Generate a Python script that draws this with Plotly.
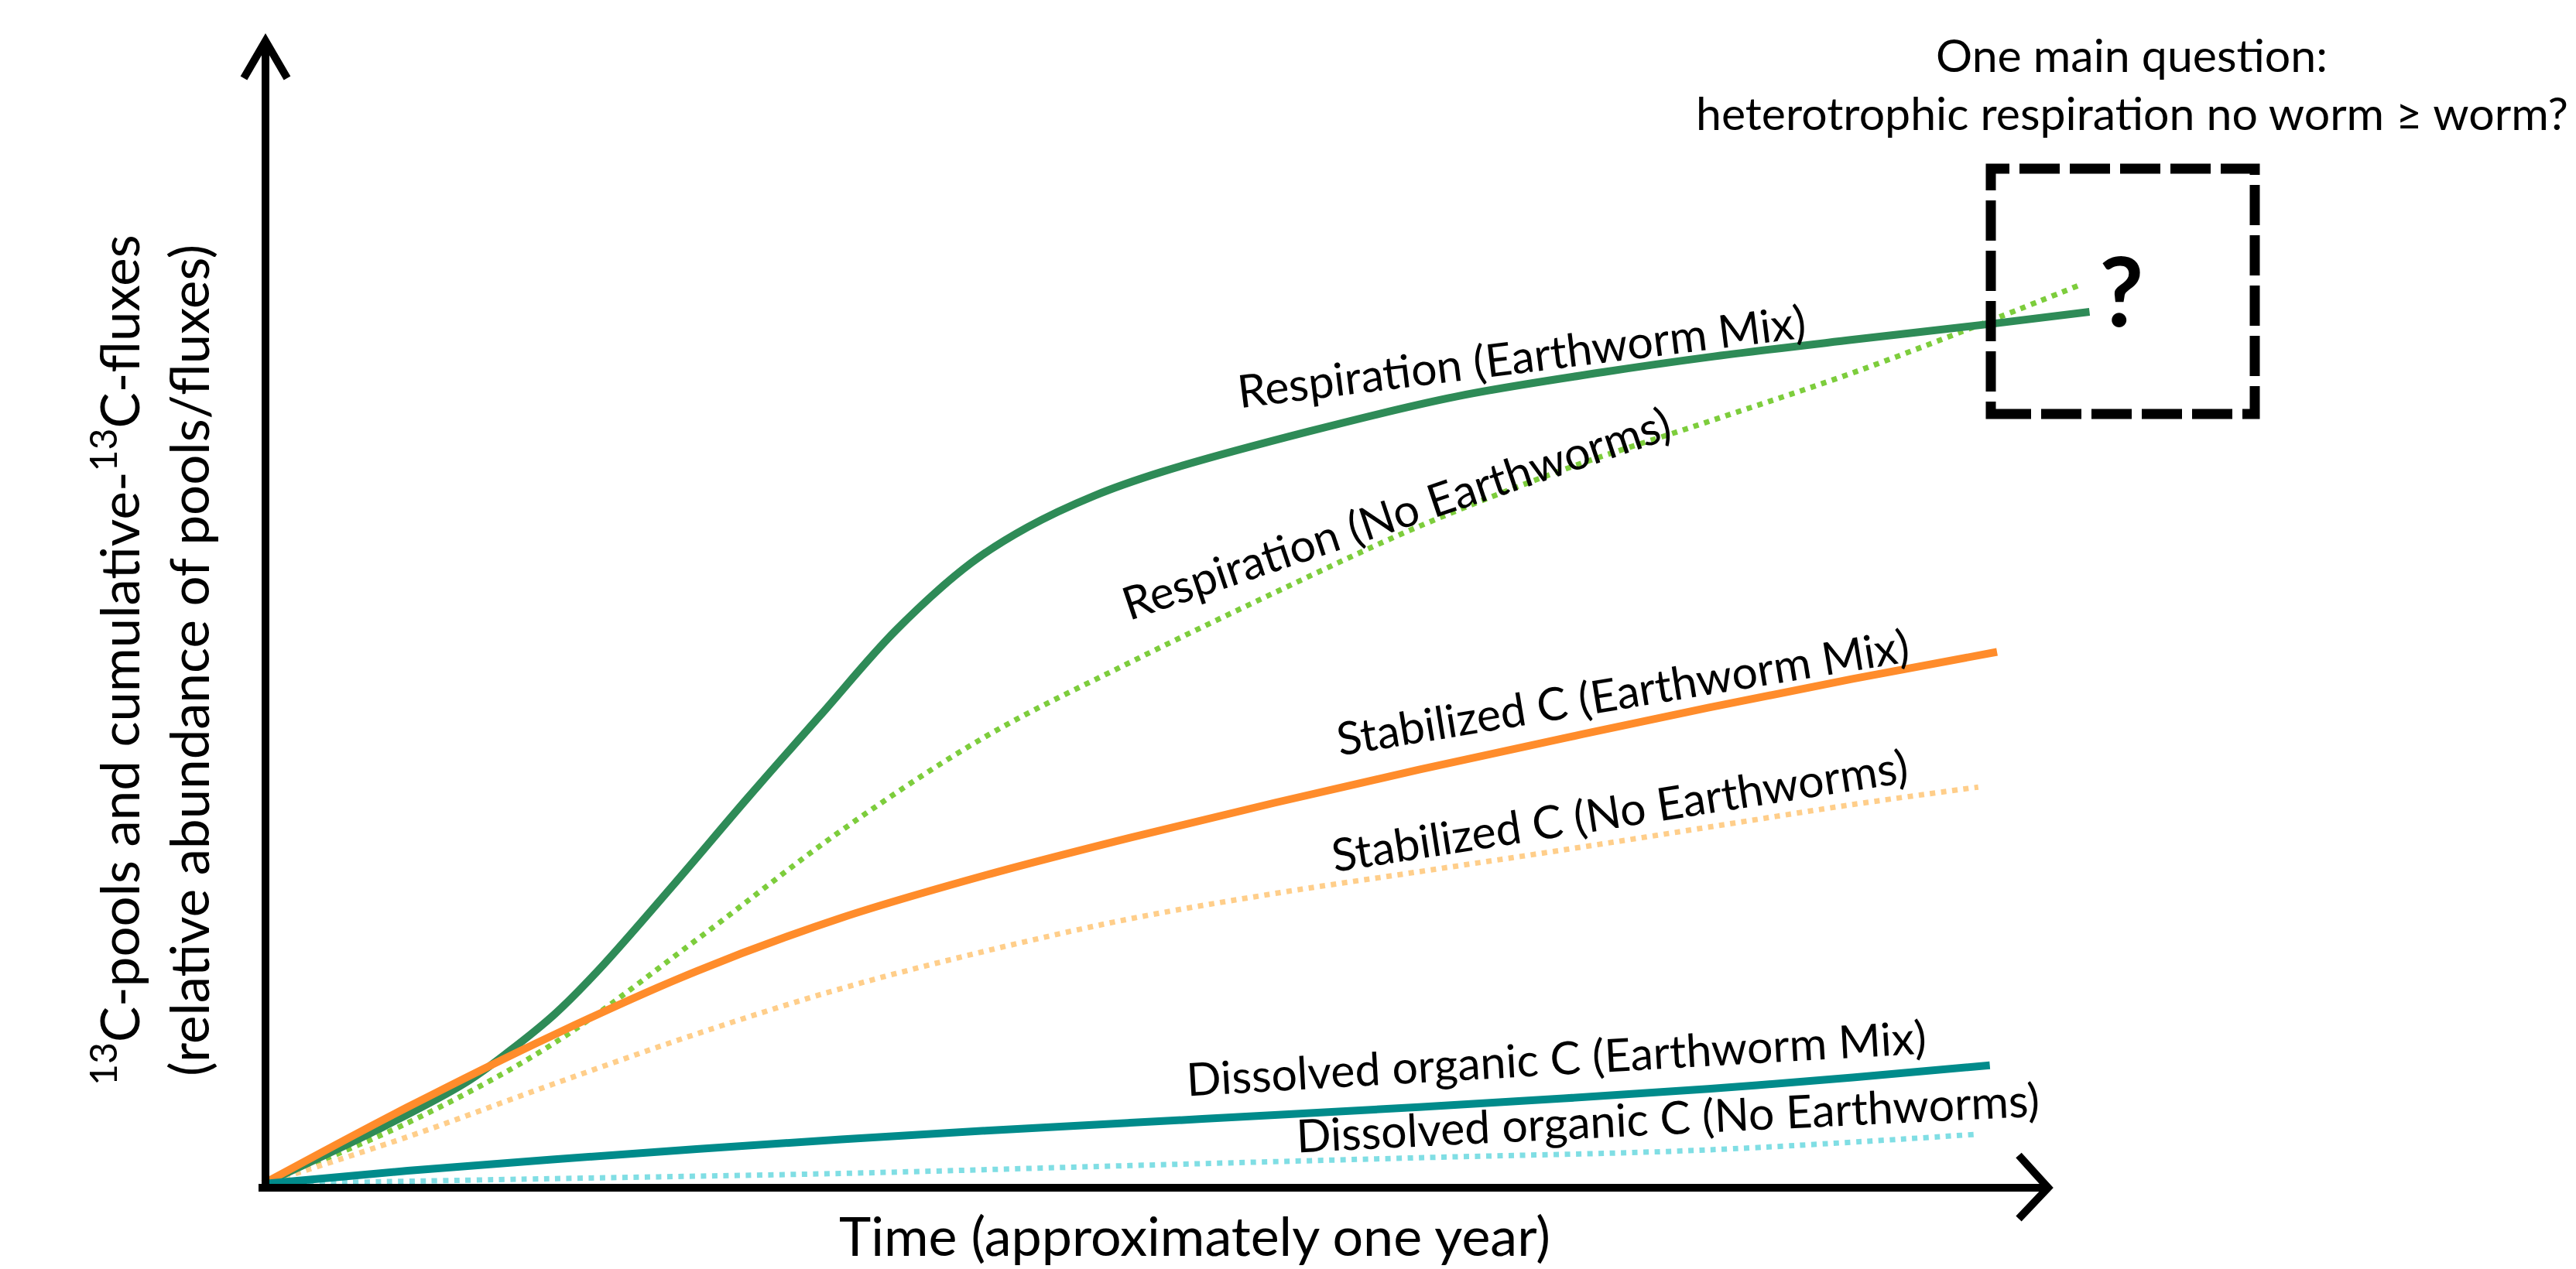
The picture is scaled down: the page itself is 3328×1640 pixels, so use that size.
import plotly.graph_objects as go

# ---------------- data (time in months, relative abundance in arbitrary units) ----------------
t_resp_mix = [0, 0.79, 1.40, 1.71, 2.02, 2.32, 2.84, 3.35, 3.86, 4.38, 4.90, 5.29, 5.75, 6.21, 7.24, 8.26,
              9.28, 10.0, 11.0, 12.0, 12.64]
v_resp_mix = [0, 6.2, 11.6, 15.3, 19.5, 24.5, 34.3, 44.2, 53.8, 63.5, 71.2, 75.3, 78.9, 81.6, 86.3, 90.3,
              93.1, 94.8, 96.8, 98.7, 100.0]

t_resp_none = [0, 1, 2, 3, 4, 5, 6, 7, 8, 9, 10, 11, 12, 12.59]
v_resp_none = [0, 7.0, 16.0, 28.0, 40.5, 51.3, 59.8, 67.8, 75.4, 81.9, 87.4, 93.0, 99.3, 103.2]

t_stab_mix = [0, 1, 2, 3, 4, 5, 6, 7, 8, 9, 10, 11, 12]
v_stab_mix = [0, 8.8, 17.0, 24.4, 30.5, 35.4, 39.7, 43.7, 47.5, 51.1, 54.6, 57.9, 61.0]

t_stab_none = [0, 1, 2, 3, 4, 5, 6, 7, 8, 9, 10, 11, 11.87]
v_stab_none = [0, 5.4, 11.4, 17.2, 22.4, 26.7, 30.4, 33.3, 35.8, 38.3, 40.9, 43.5, 45.5]

t_doc_mix = [0, 1, 2, 3, 4, 5, 6, 7, 8, 9, 10, 11, 11.95]
v_doc_mix = [0, 1.5, 2.8, 4.0, 5.1, 6.1, 7.0, 7.9, 8.8, 9.8, 10.9, 12.2, 13.6]

t_doc_none = [0, 2, 4, 6, 8, 10, 11.87]
v_doc_none = [0, 0.6, 1.2, 2.1, 3.0, 3.9, 5.7]

series_names = [
    "Respiration (Earthworm Mix)", "Respiration (No Earthworms)",
    "Stabilized C (Earthworm Mix)", "Stabilized C (No Earthworms)",
    "Dissolved organic C (Earthworm Mix)", "Dissolved organic C (No Earthworms)",
]

# label positions (time, value) and angles
label_t = [8.71, 7.84, 9.41, 9.39, 8.95, 9.72]
label_v = [95.0, 77.0, 56.5, 42.9, 14.5, 7.7]
label_angle = [-7.1, -18.6, -9.4, -8.9, -3.3, -2.8]

x_title = "Time (approximately one year)"
y_title = "<sup>13</sup>C-pools and cumulative-<sup>13</sup>C-fluxes<br>(relative abundance of pools/fluxes)"
question_lines = ["One main question:", "heterotrophic respiration no worm ≥ worm?"]

# ---------------- geometry ----------------
W, H = 3328, 1640
X0, PXM = 332.0, 186.67     # pixel of t=0, pixels per month
Y0, PYU = 1522.0, 11.27     # pixel of v=0, pixels per unit


def dx(px):
    return (px - X0) / PXM


def dy(py):
    return (Y0 - py) / PYU


FONT = "Lato, Carlito, Calibri, 'Noto Sans', sans-serif"

fig = go.Figure()

solid_w = 10
dot_w = 7
dot_dash = "7px,7.5px"

styles = [
    dict(color="#2E8B57", width=solid_w, dash="solid"),
    dict(color="#7DCD3C", width=dot_w, dash=dot_dash),
    dict(color="#FF8C2B", width=solid_w, dash="solid"),
    dict(color="#FFCE8A", width=dot_w, dash=dot_dash),
    dict(color="#008B8B", width=solid_w, dash="solid"),
    dict(color="#80DEE4", width=dot_w, dash=dot_dash),
]
data = [
    (t_resp_mix, v_resp_mix), (t_resp_none, v_resp_none),
    (t_stab_mix, v_stab_mix), (t_stab_none, v_stab_none),
    (t_doc_mix, v_doc_mix), (t_doc_none, v_doc_none),
]
order = [1, 3, 5, 0, 2, 4]
for i in order:
    tx, vy = data[i]
    fig.add_trace(go.Scatter(
        x=tx, y=vy, mode="lines", name=series_names[i],
        line=dict(color=styles[i]["color"], width=styles[i]["width"],
                  dash=styles[i]["dash"], shape="spline", smoothing=1.0),
        hoverinfo="skip", showlegend=False,
    ))

# ---------------- axes drawn as arrows ----------------
shapes = []
ax_x = 335
shapes.append(dict(type="line", xref="x", yref="y", x0=dx(ax_x), y0=dy(1532), x1=dx(ax_x), y1=dy(47),
                   line=dict(color="black", width=10)))
shapes.append(dict(type="path", xref="x", yref="y",
                   path=f"M {dx(307)},{dy(93)} L {dx(ax_x)},{dy(45)} L {dx(363)},{dy(93)}",
                   line=dict(color="black", width=10)))
ax_y = 1527
shapes.append(dict(type="line", xref="x", yref="y", x0=dx(326), y0=dy(ax_y), x1=dx(2636), y1=dy(ax_y),
                   line=dict(color="black", width=10)))
shapes.append(dict(type="path", xref="x", yref="y",
                   path=f"M {dx(2600)},{dy(1485)} L {dx(2638)},{dy(ax_y)} L {dx(2600)},{dy(1567)}",
                   line=dict(color="black", width=10)))
# dashed question box
shapes.append(dict(type="rect", xref="x", yref="y", x0=dx(2564), y0=dy(527), x1=dx(2905), y1=dy(210),
                   line=dict(color="black", width=13, dash="52px,13px")))

annotations = []
for i in range(6):
    annotations.append(dict(x=label_t[i], y=label_v[i], xref="x", yref="y", text=series_names[i],
                            showarrow=False, textangle=label_angle[i], xanchor="center", yanchor="middle",
                            font=dict(family=FONT, size=59, color="black")))

annotations.append(dict(x=dx(1535), y=dy(1588), xref="x", yref="y", text=x_title, showarrow=False,
                        xanchor="center", yanchor="middle", font=dict(family=FONT, size=70, color="black")))
annotations.append(dict(x=dx(186), y=dy(845), xref="x", yref="y", text=y_title, showarrow=False,
                        textangle=-90, xanchor="center", yanchor="middle",
                        font=dict(family=FONT, size=69, color="black")))
annotations.append(dict(x=dx(2746), y=dy(62), xref="x", yref="y", text=question_lines[0], showarrow=False,
                        xanchor="center", yanchor="middle", font=dict(family=FONT, size=59, color="black")))
annotations.append(dict(x=dx(2746), y=dy(137), xref="x", yref="y", text=question_lines[1], showarrow=False,
                        xanchor="center", yanchor="middle", font=dict(family=FONT, size=59, color="black")))
annotations.append(dict(x=dx(2733), y=dy(366), xref="x", yref="y", text="<b>?</b>", showarrow=False,
                        xanchor="center", yanchor="middle", font=dict(family=FONT, size=125, color="black")))

fig.update_layout(
    width=W, height=H,
    margin=dict(l=0, r=0, t=0, b=0),
    paper_bgcolor="white", plot_bgcolor="white",
    xaxis=dict(range=[dx(0), dx(W)], visible=False, fixedrange=True),
    yaxis=dict(range=[dy(H), dy(0)], visible=False, fixedrange=True),
    shapes=shapes, annotations=annotations,
    showlegend=False,
)

fig.write_html("out.html")
